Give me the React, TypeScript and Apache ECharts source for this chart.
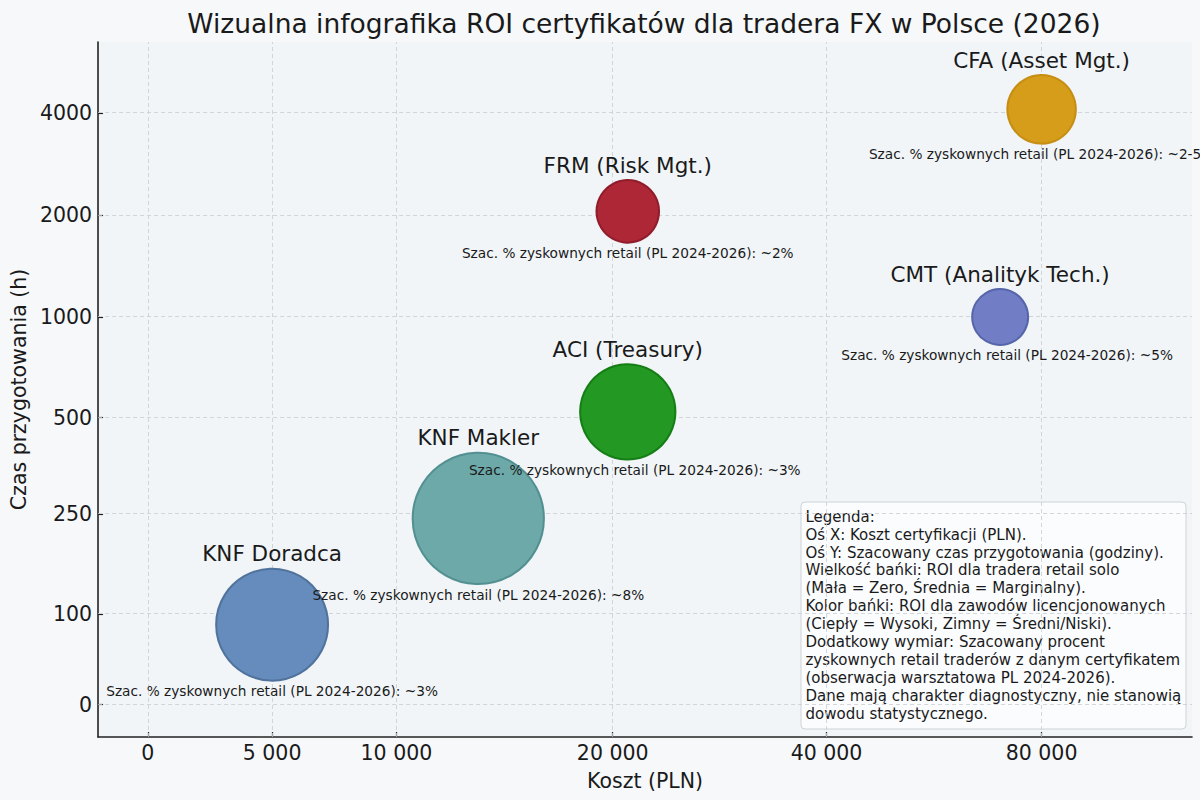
import React, { useEffect, useRef } from 'react';
import * as echarts from 'echarts';

const certNames = [
  'KNF Doradca',
  'KNF Makler',
  'ACI (Treasury)',
  'FRM (Risk Mgt.)',
  'CMT (Analityk Tech.)',
  'CFA (Asset Mgt.)',
];
const costPln = [5000, 13000, 21000, 21000, 70000, 80000];
const prepHours = [88, 240, 520, 2050, 1000, 4100];
// bubble area ~ ROI for a solo retail trader
const roiSoloArea = [4000, 5500, 2900, 1250, 1000, 1500];
const profitableRetail = ['~3%', '~8%', '~3%', '~2%', '~5%', '~2-5%'];

const xTicks = [0, 5000, 10000, 20000, 40000, 80000];
const yTicks = [0, 100, 250, 500, 1000, 2000, 4000];

const legendLines = [
  'Legenda:',
  'Oś X: Koszt certyfikacji (PLN).',
  'Oś Y: Szacowany czas przygotowania (godziny).',
  'Wielkość bańki: ROI dla tradera retail solo',
  '(Mała = Zero, Średnia = Marginalny).',
  'Kolor bańki: ROI dla zawodów licencjonowanych',
  '(Ciepły = Wysoki, Zimny = Średni/Niski).',
  'Dodatkowy wymiar: Szacowany procent',
  'zyskownych retail traderów z danym certyfikatem',
  '(obserwacja warsztatowa PL 2024-2026).',
  'Dane mają charakter diagnostyczny, nie stanowią',
  'dowodu statystycznego.',
];

// where each tick sits along its axis (a symlog-like scale)
const xSlots = [0, 1, 2, 3.74, 5.46, 7.19];
const ySlots = [0, 0.907, 1.905, 2.87, 3.875, 4.895, 5.915];

const bubbleFill = ['#6088ba', '#68a6a6', '#1c961c', '#aa2030', '#6c7ac4', '#d49a12'];
const bubbleEdge = ['#4d6f9a', '#4f8d8e', '#137b13', '#8e1a28', '#5563a8', '#c48c10'];
const noteShift: Record<string, number> = { 'ACI (Treasury)': 7, 'CMT (Analityk Tech.)': 7 };

const FONT = 'DejaVu Sans';
const INK = '#1a1a1a';

// linear from zero, logarithmic between positive ticks
const toSlot = (v: number, ticks: number[], slots: number[]) => {
  let i = 0;
  while (i < ticks.length - 2 && v > ticks[i + 1]) i++;
  const a = ticks[i];
  const b = ticks[i + 1];
  const t = a <= 0 ? (v - a) / (b - a) : Math.log(v / a) / Math.log(b / a);
  return slots[i] + t * (slots[i + 1] - slots[i]);
};

const tickText = (v: number, ticks: number[], slots: number[], spaced: boolean) => {
  const i = slots.findIndex((s) => Math.abs(s - v) < 1e-6);
  if (i < 0) return '';
  const s = String(ticks[i]);
  return spaced ? s.replace(/\B(?=(\d{3})+(?!\d))/g, ' ') : s;
};

const bubbleDiameter = (area: number) => 1.77 * Math.sqrt(area);

const App: React.FC = () => {
  const chartRef = useRef<HTMLDivElement | null>(null);

  useEffect(() => {
    document.body.style.margin = '0';
    document.body.style.overflow = 'hidden';
    const chart = echarts.init(chartRef.current!, undefined, { renderer: 'svg' });

    const points = certNames.map((name, i) => ({
      name,
      value: [toSlot(costPln[i], xTicks, xSlots), toSlot(prepHours[i], yTicks, ySlots)],
      symbolSize: bubbleDiameter(roiSoloArea[i]),
    }));

    const option: echarts.EChartsOption = {
      animation: false,
      backgroundColor: '#f6f8fa',
      textStyle: { fontFamily: FONT },
      title: {
        text: 'Wizualna infografika ROI certyfikatów dla tradera FX w Polsce (2026)',
        left: 644,
        top: 10,
        padding: 0,
        textAlign: 'center',
        textStyle: { fontFamily: FONT, fontSize: 26.5, fontWeight: 'normal', color: INK },
      },
      grid: {
        left: 96,
        right: 8,
        top: 42,
        bottom: 63,
        show: true,
        backgroundColor: '#f1f5f8',
        borderWidth: 0,
      },
      xAxis: {
        type: 'value',
        min: -0.4,
        max: 8.4,
        name: 'Koszt (PLN)',
        nameLocation: 'middle',
        nameGap: 33,
        nameTextStyle: { fontFamily: FONT, fontSize: 20.5, color: INK },
        axisLine: { show: true, onZero: false, lineStyle: { color: '#222', width: 1.6 } },
        axisTick: {
          show: true,
          inside: true,
          length: 5,
          customValues: xSlots,
          lineStyle: { color: '#222', width: 1.2 },
        },
        axisLabel: {
          customValues: xSlots,
          formatter: (v: number) => tickText(v, xTicks, xSlots, true),
          fontFamily: FONT,
          fontSize: 20.5,
          color: INK,
          margin: 5,
        },
        splitLine: { show: false },
      },
      yAxis: {
        type: 'value',
        min: -0.325,
        max: 6.625,
        name: 'Czas przygotowania (h)',
        nameLocation: 'middle',
        nameGap: 65,
        nameTextStyle: { fontFamily: FONT, fontSize: 20.5, color: INK },
        axisLine: { show: true, onZero: false, lineStyle: { color: '#222', width: 1.6 } },
        axisTick: {
          show: true,
          inside: true,
          length: 5,
          customValues: ySlots,
          lineStyle: { color: '#222', width: 1.2 },
        },
        axisLabel: {
          customValues: ySlots,
          formatter: (v: number) => tickText(v, yTicks, ySlots, false),
          fontFamily: FONT,
          fontSize: 20.5,
          color: INK,
          margin: 6,
        },
        splitLine: { show: false },
      },
      series: [
        {
          // dashed grid at the tick positions
          type: 'scatter',
          data: [],
          silent: true,
          z: 1,
          markLine: {
            silent: true,
            symbol: 'none',
            z: 1,
            label: { show: false },
            lineStyle: { color: '#c9cdd1', type: [4, 3], width: 0.8 },
            emphasis: { disabled: true },
            data: [
              ...xSlots.map((s) => ({ xAxis: s })),
              ...ySlots.map((s) => ({ yAxis: s })),
            ] as any,
          },
        },
        {
          type: 'scatter',
          z: 3,
          data: points.map((p, i) => ({
            ...p,
            itemStyle: {
              color: bubbleFill[i],
              borderColor: bubbleEdge[i],
              borderWidth: 2,
              opacity: 0.97,
            },
          })),
          label: {
            show: true,
            position: 'top',
            distance: 3,
            formatter: '{b}',
            fontFamily: FONT,
            fontSize: 21.5,
            color: INK,
            opacity: 1,
          },
          emphasis: { disabled: true },
        },
        {
          type: 'scatter',
          z: 4,
          silent: true,
          data: points.map((p) => ({
            ...p,
            itemStyle: { color: 'rgba(0,0,0,0)', borderWidth: 0, opacity: 1 },
            label: { offset: [noteShift[p.name] ?? 0, 0] },
          })),
          label: {
            show: true,
            position: 'bottom',
            distance: 3.5,
            formatter: (p: any) =>
              `Szac. % zyskownych retail (PL 2024-2026): ${profitableRetail[p.dataIndex]}`,
            fontFamily: FONT,
            fontSize: 13.7,
            color: INK,
            opacity: 1,
          },
          emphasis: { disabled: true },
        },
      ],
      graphic: [
        {
          type: 'group',
          x: 801,
          y: 502,
          z: 100,
          children: [
            {
              type: 'rect',
              shape: { x: 0, y: 0, width: 385, height: 227, r: 4 },
              style: { fill: 'rgba(252,253,254,0.88)', stroke: '#cfd3d6', lineWidth: 1 },
            },
            {
              type: 'text',
              x: 4.5,
              y: 5.8,
              style: {
                text: legendLines.join('\n'),
                font: `15px "${FONT}"`,
                lineHeight: 17.9,
                fill: INK,
              },
            },
          ],
        },
      ],
    };

    chart.setOption(option);

    return () => {
      chart.dispose();
    };
  }, []);

  return <div ref={chartRef} style={{ width: '1200px', height: '800px' }} />;
};

export default App;
